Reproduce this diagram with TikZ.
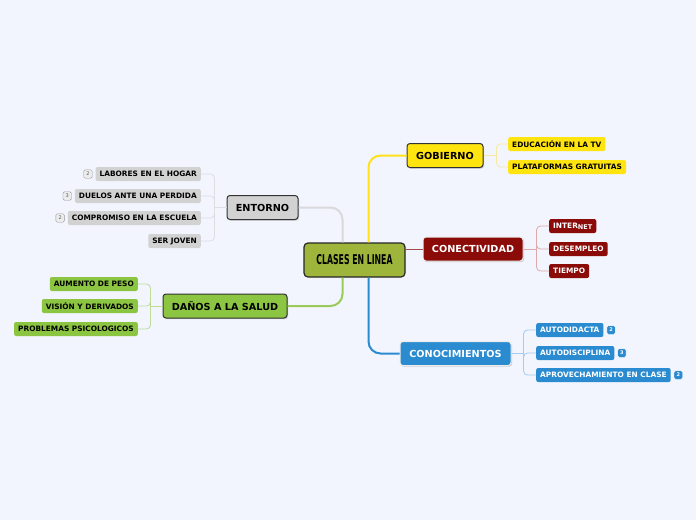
\documentclass[tikz,border=0pt]{standalone}
\usepackage{fontspec}
\setmainfont{DejaVu Sans}
\newfontfamily\condfont[FakeStretch=0.64]{DejaVu Sans Condensed}
\usetikzlibrary{positioning,shadows}
\definecolor{bgpage}{HTML}{F2F5FD}
\definecolor{olive}{HTML}{9DB53A}
\definecolor{gobfill}{HTML}{FFE40F}
\definecolor{gobline}{HTML}{FFE21A}
\definecolor{gobtwig}{HTML}{F6E9A2}
\definecolor{cnxfill}{HTML}{8A0B08}
\definecolor{cnxline}{HTML}{A34A4A}
\definecolor{cnxtwig}{HTML}{DDA9A9}
\definecolor{conoblue}{HTML}{2B8BD0}
\definecolor{conotwig}{HTML}{A6CBEE}
\definecolor{entfill}{HTML}{D2D2D2}
\definecolor{entline}{HTML}{D9D9DC}
\definecolor{enttwig}{HTML}{DEDEE2}
\definecolor{danfill}{HTML}{8CC541}
\definecolor{danline}{HTML}{9ACB5A}
\definecolor{dantwig}{HTML}{BCDC97}

\begin{document}
\begin{tikzpicture}[x=1pt, y=-1pt,
    topic/.style={draw=#1, line width=1pt, rounded corners=3pt, minimum height=24pt,
      inner xsep=6pt, font=\fontsize{9.7}{11}\selectfont\bfseries,
      drop shadow={shadow xshift=1pt, shadow yshift=-1.2pt, opacity=0.35}},
    leaf/.style={fill=#1, rounded corners=2pt, minimum height=14pt, inner xsep=4pt,
      inner ysep=0pt, font=\fontsize{7.4}{8}\selectfont\bfseries},
    tagl/.style={draw=gray!80, fill=gray!15, rounded corners=1.5pt, minimum width=8.5pt,
      minimum height=8.5pt, inner sep=0pt, font=\fontsize{5}{5}\selectfont, text=gray!70!black},
    tagr/.style={draw=white, fill=conoblue, rounded corners=1.5pt, minimum width=8.5pt,
      minimum height=8.5pt, inner sep=0pt, font=\fontsize{5}{5}\selectfont\bfseries, text=white},
    branch/.style={draw=#1, line width=2pt, rounded corners=12pt},
    twig/.style={draw=#1, line width=0.8pt, rounded corners=4pt}
  ]
  \fill[bgpage] (0,0) rectangle (696,520);
  \useasboundingbox (0,0) rectangle (696,520);

  % central topic
  \node[draw=black!85, line width=1.2pt, fill=olive, rounded corners=4pt, minimum width=101pt,
    minimum height=34pt, font=\condfont\fontsize{13.5}{14}\selectfont\bfseries] (clases) at (354.5,260) {CLASES EN LINEA};

  % main topics
  \node[topic=black!80, fill=gobfill, minimum width=76pt] (gob) at (445,155.5) {GOBIERNO};
  \node[topic=white!85!gray, fill=cnxfill, text=white, minimum width=100pt] (cnx) at (473,249) {CONECTIVIDAD};
  \node[topic=white!85!gray, fill=conoblue, text=white, minimum width=111pt] (cono) at (455.5,353.5) {CONOCIMIENTOS};
  \node[topic=black!80, fill=entfill, minimum width=71pt] (ent) at (262.5,207.5) {ENTORNO};
  \node[topic=black!80, fill=danfill, minimum width=124pt] (dan) at (225,306) {DAÑOS A LA SALUD};

  % subtopics right
  \node[leaf=gobfill, anchor=west] (edu) at (508,144) {EDUCACIÓN EN LA TV};
  \node[leaf=gobfill, anchor=west] (plat) at (508,167) {PLATAFORMAS GRATUITAS};
  \node[leaf=cnxfill, text=white, anchor=west] (inet) at (549,226) {INTER\raisebox{-0.6pt}{\fontsize{6.5}{7}\selectfont NET}};
  \node[leaf=cnxfill, text=white, anchor=west] (desem) at (549,249) {DESEMPLEO};
  \node[leaf=cnxfill, text=white, anchor=west] (tiem) at (549,271) {TIEMPO};
  \node[leaf=conoblue, text=white, anchor=west] (adid) at (536,330) {AUTODIDACTA};
  \node[leaf=conoblue, text=white, anchor=west] (adis) at (536,353) {AUTODISCIPLINA};
  \node[leaf=conoblue, text=white, anchor=west] (aprov) at (536,375) {APROVECHAMIENTO EN CLASE};
  \node[tagr, right=3pt of adid] (adidn) {2};
  \node[tagr, right=3pt of adis] (adisn) {3};
  \node[tagr, right=3pt of aprov] (aprovn) {2};

  % subtopics left
  \node[leaf=entfill, anchor=east] (hogar) at (201,174) {LABORES EN EL HOGAR};
  \node[leaf=entfill, anchor=east] (duelo) at (201,196) {DUELOS ANTE UNA PERDIDA};
  \node[leaf=entfill, anchor=east] (escu) at (201,218) {COMPROMISO EN LA ESCUELA};
  \node[leaf=entfill, anchor=east] (joven) at (201,241) {SER JOVEN};
  \node[tagl, left=3pt of hogar] (hogarn) {2};
  \node[tagl, left=3pt of duelo] (duelon) {3};
  \node[tagl, left=3pt of escu] (escun) {2};
  \node[leaf=danfill, anchor=east] (peso) at (138,284) {AUMENTO DE PESO};
  \node[leaf=danfill, anchor=east] (vision) at (138,306) {VISIÓN Y DERIVADOS};
  \node[leaf=danfill, anchor=east] (psico) at (138,329) {PROBLEMAS PSICOLOGICOS};

  % branches from the centre
  \draw[branch=gobline] ([xshift=14pt]clases.north) |- (gob.west);
  \draw[branch=conoblue] ([xshift=14pt]clases.south) |- (cono.west);
  \draw[branch=entline] ([xshift=-12pt]clases.north) |- (ent.east);
  \draw[branch=danline] ([xshift=-12pt]clases.south) |- (dan.east);
  \draw[draw=cnxline, line width=1pt] (clases.east |- cnx.west) -- (cnx.west);

  % twigs to subtopics
  \draw[twig=gobtwig] (gob.east) -- ++(13,0) coordinate (gobj);
  \foreach \n in {edu,plat} \draw[twig=gobtwig] (gobj) |- (\n.west);
  \draw[twig=cnxtwig] (cnx.east) -- ++(13,0) coordinate (cnxj);
  \foreach \n in {inet,desem,tiem} \draw[twig=cnxtwig] (cnxj) |- (\n.west);
  \draw[twig=conotwig] (cono.east) -- ++(12,0) coordinate (conoj);
  \foreach \n in {adid,adis,aprov} \draw[twig=conotwig] (conoj) |- (\n.west);
  \draw[twig=enttwig] (ent.west) -- ++(-12,0) coordinate (entj);
  \foreach \n in {hogar,duelo,escu,joven} \draw[twig=enttwig] (entj) |- (\n.east);
  \draw[twig=dantwig] (dan.west) -- ++(-12,0) coordinate (danj);
  \foreach \n in {peso,vision,psico} \draw[twig=dantwig] (danj) |- (\n.east);
\end{tikzpicture}
\end{document}
